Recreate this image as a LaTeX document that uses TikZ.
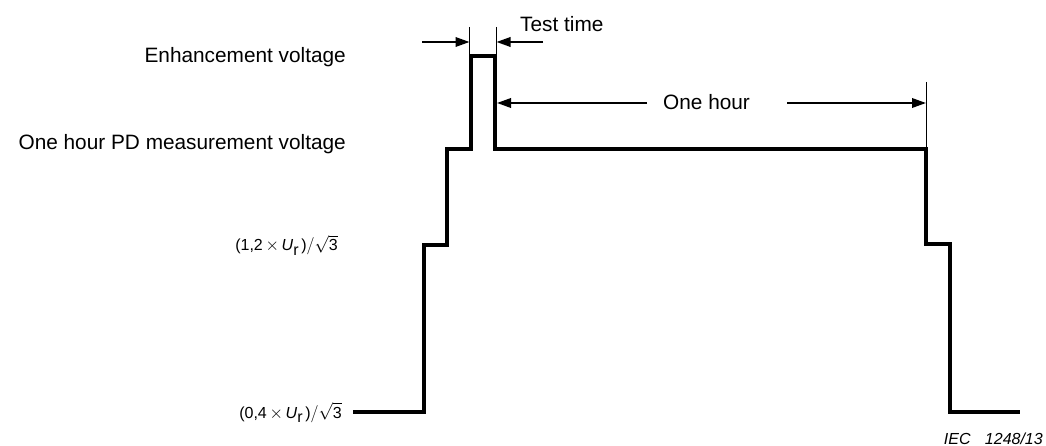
\documentclass[tikz,border=0pt]{standalone}
\usepackage{fontspec}
\setmainfont{Liberation Sans}
\usetikzlibrary{arrows.meta}
\begin{document}
\begin{tikzpicture}[x=1pt,y=-1pt,
  wave/.style={line width=3.8pt, line join=miter},
  dimarrow/.style={line width=1.9pt, -{Triangle[length=14pt,width=9.5pt]}},
  ext/.style={line width=0.8pt},
  lbl/.style={font=\fontsize{20.8}{24}\selectfont, inner sep=0pt},
  mlbl/.style={font=\fontsize{16}{18}\selectfont, inner sep=0pt},
  iec/.style={font=\fontsize{16}{18}\selectfont\itshape, inner sep=0pt}]
\useasboundingbox (0,0) rectangle (1046,446);
% waveform points
\coordinate (w0) at (353,412);
\coordinate (w1) at (424,412);
\coordinate (w2) at (424,245);
\coordinate (w3) at (447,245);
\coordinate (w4) at (447,149);
\coordinate (w5) at (471,149);
\coordinate (w6) at (471,56);
\coordinate (w7) at (495,56);
\coordinate (w8) at (495,149);
\coordinate (w9) at (926,149);
\coordinate (w10) at (926,244);
\coordinate (w11) at (950,244);
\coordinate (w12) at (950,412);
\coordinate (w13) at (1020,412);
\draw[wave] (w0) -- (w1) -- (w2) -- (w3) -- (w4) -- (w5) -- (w6) -- (w7) -- (w8) -- (w9) -- (w10) -- (w11) -- (w12) -- (w13);
% extension lines
\coordinate (e1) at (469.5,27);
\coordinate (e1b) at (469.5,56);
\coordinate (e2) at (496.5,27);
\coordinate (e2b) at (496.5,56);
\coordinate (e3) at (926.5,82);
\coordinate (e3b) at (926.5,149);
\draw[ext] (e1) -- (e1b);
\draw[ext] (e2) -- (e2b);
\draw[ext] (e3) -- (e3b);
% test time arrows
\coordinate (t1s) at (422,42);
\coordinate (t1e) at (469.5,42);
\coordinate (t2s) at (543,42);
\coordinate (t2e) at (496.5,42);
\draw[dimarrow] (t1s) -- (t1e);
\draw[dimarrow] (t2s) -- (t2e);
\node[lbl, anchor=base west] (tt) at (520,32) {Test time};
% one hour arrows
\coordinate (h1s) at (647,103);
\coordinate (h1e) at (497,103);
\coordinate (h2s) at (787,103);
\coordinate (h2e) at (926,103);
\draw[dimarrow] (h1s) -- (h1e);
\draw[dimarrow] (h2s) -- (h2e);
\node[lbl, anchor=base west] (oh) at (663,110) {One hour};
% left labels
\node[lbl, anchor=base east] (ev) at (346,63) {Enhancement voltage};
\node[lbl, anchor=base east] (pd) at (346,150) {One hour PD measurement voltage};
\node[mlbl, anchor=base east] (l12) at (338,251) {(1,2\,$\times$\,\textit{U}\raisebox{-0.5ex}{r}\,)$\Big/\sqrt{\mbox{3}}$};
\node[mlbl, anchor=base east] (l04) at (342,418) {(0,4\,$\times$\,\textit{U}\raisebox{-0.5ex}{r}\,)$\Big/\sqrt{\mbox{3}}$};
\node[iec, anchor=base east] (iec) at (1043,444) {IEC\hspace{0.9em}1248/13};
\end{tikzpicture}
\end{document}
